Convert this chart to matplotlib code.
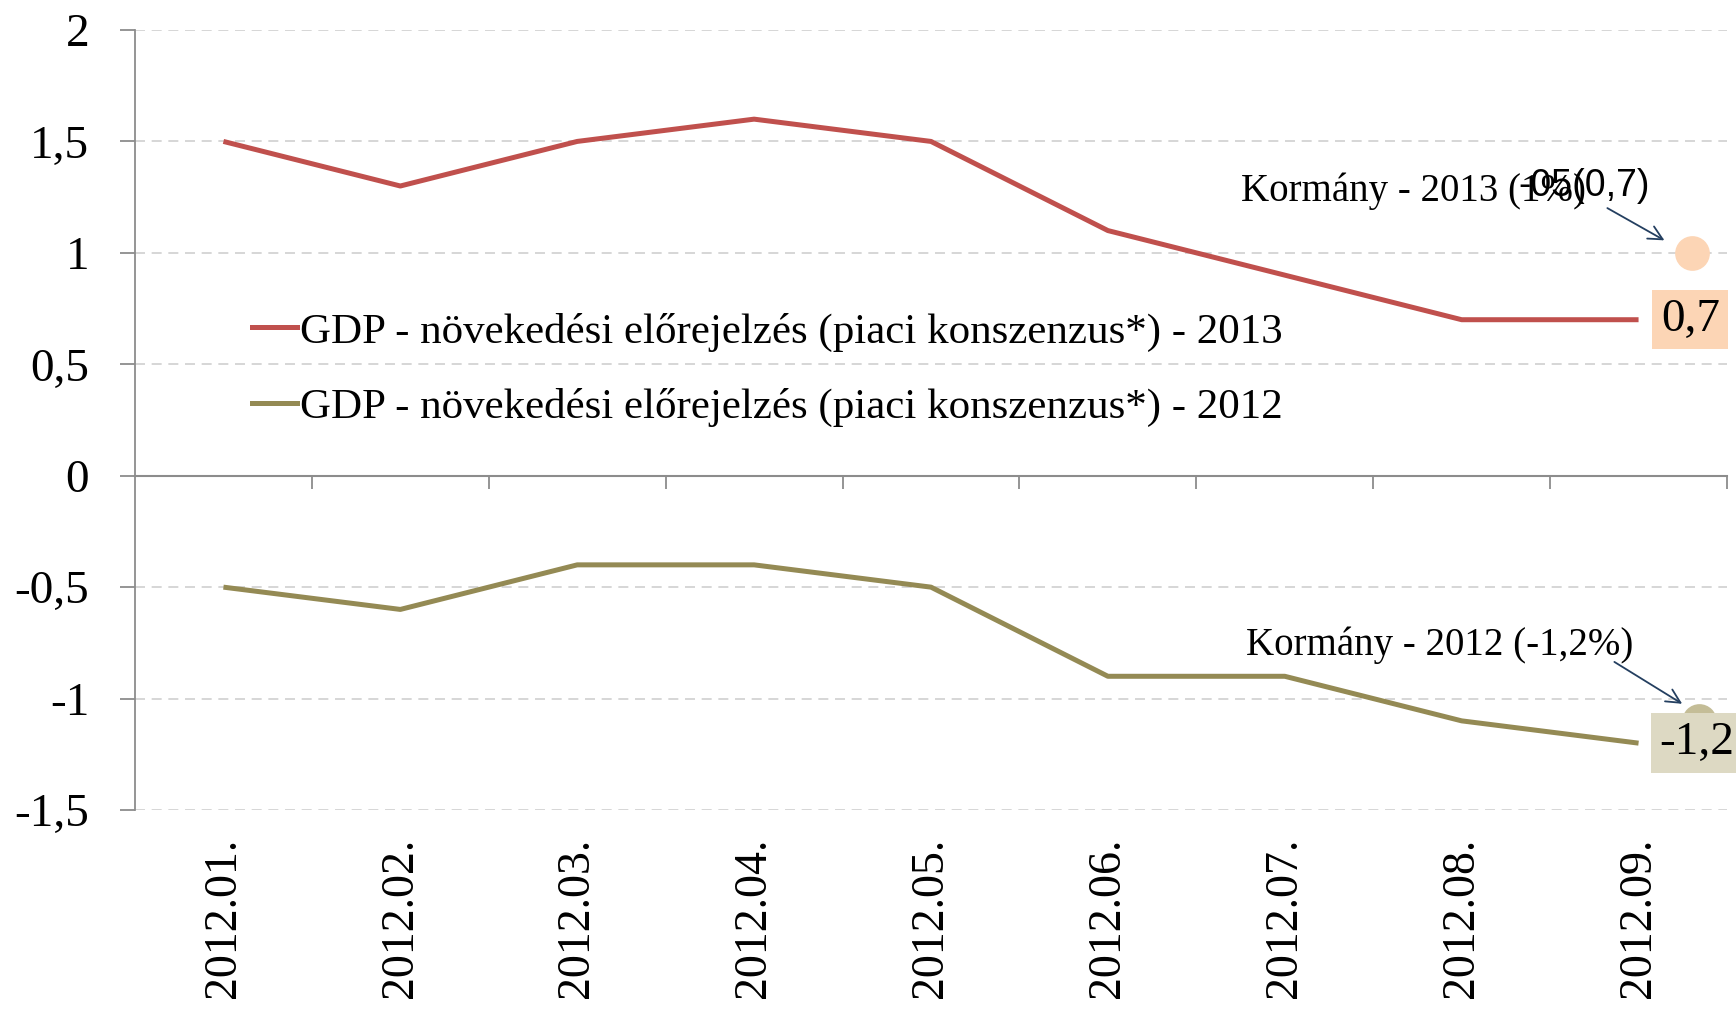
import matplotlib
matplotlib.use("Agg")
import matplotlib.pyplot as plt
from matplotlib.lines import Line2D

# ---- data ----
categories = ["2012.01.", "2012.02.", "2012.03.", "2012.04.", "2012.05.",
              "2012.06.", "2012.07.", "2012.08.", "2012.09."]
gdp_2013 = [1.5, 1.3, 1.5, 1.6, 1.5, 1.1, 0.9, 0.7, 0.7]
gdp_2012 = [-0.5, -0.6, -0.4, -0.4, -0.5, -0.9, -0.9, -1.1, -1.2]
label_2013 = "GDP - növekedési előrejelzés (piaci konszenzus*) - 2013"
label_2012 = "GDP - növekedési előrejelzés (piaci konszenzus*) - 2012"
gov_2013 = 1.0
gov_2012 = -1.1
gov_2013_x = 8.30
gov_2012_x = 8.34
yticks = [2, 1.5, 1, 0.5, 0, -0.5, -1, -1.5]
ytick_labels = ["2", "1,5", "1", "0,5", "0", "-0,5", "-1", "-1,5"]

RED = "#C0504D"
OLIVE = "#948A54"
SERIF = ["Liberation Serif", "DejaVu Serif"]

plt.rcParams["font.family"] = SERIF

fig = plt.figure(figsize=(17.36, 10.13), dpi=100)
ax = fig.add_axes([135 / 1736, 1 - 810 / 1013, (1727 - 135) / 1736, 780 / 1013])

x = list(range(len(categories)))
ax.plot(x, gdp_2013, color=RED, lw=3.6, solid_capstyle="butt", zorder=3)
ax.plot(x, gdp_2012, color=OLIVE, lw=3.6, solid_capstyle="butt", zorder=3)

ax.set_xlim(-0.5, len(categories) - 0.5)
ax.set_ylim(-1.5, 2)

# gridlines
for yv in yticks:
    if yv != 0:
        ax.axhline(yv, color="#D0D0D0", lw=1.2, ls=(0, (6, 4)), zorder=1)

# y axis
ax.set_yticks(yticks)
ax.set_yticklabels(ytick_labels, fontsize=34)
ax.tick_params(axis="y", direction="out", length=11, width=1.3, color="#8C8C8C", pad=22)
for s in ["top", "right", "bottom"]:
    ax.spines[s].set_visible(False)
ax.spines["left"].set_color("#8C8C8C")
ax.spines["left"].set_linewidth(1.3)

# x tick labels at bottom
ax.set_xticks(x)
ax.set_xticklabels(categories, rotation=90, fontsize=33, va="top")
ax.tick_params(axis="x", length=0, pad=20)

# zero axis line with tick marks between categories
sec = ax.secondary_xaxis(1.5 / 3.5)
sec.set_xticks([i + 0.5 for i in range(len(categories))])
sec.set_xticklabels([])
sec.tick_params(direction="out", length=9, width=1.3, color="#8C8C8C")
sec.spines["bottom"].set_color("#8C8C8C")
sec.spines["bottom"].set_linewidth(1.5)

# legend
handles = [Line2D([0], [0], color=RED, lw=3.6), Line2D([0], [0], color=OLIVE, lw=3.6)]
ax.legend(handles, [label_2013, label_2012], loc="upper left",
          bbox_to_anchor=(0.0735, 0.638), frameon=False, fontsize=31,
          handlelength=1.05, handletextpad=0.06, labelspacing=0.84, borderpad=0,
          borderaxespad=0)

# government points
ax.plot([gov_2013_x], [gov_2013], "o", ms=25, color="#FCD5B5", mec="none", zorder=4, clip_on=False)
ax.plot([gov_2012_x], [gov_2012], "o", ms=25, color="#C4BD97", mec="none", zorder=4, clip_on=False)

# annotations
ax.text(5.752, 1.275, "Kormány - 2013 (1%)", fontsize=28, ha="left", va="center", zorder=5)
ax.text(7.318, 1.30, "-05(0,7)", fontsize=27, ha="left", va="center",
        family=["Liberation Sans", "DejaVu Sans"], zorder=6)
ax.text(5.78, -0.761, "Kormány - 2012 (-1,2%)", fontsize=28, ha="left", va="center", zorder=5)

ax.annotate("", xy=(8.16, 1.05), xytext=(7.81, 1.207),
            arrowprops=dict(arrowstyle="->", color="#243F60", lw=1.3, mutation_scale=25),
            zorder=5)
ax.annotate("", xy=(8.26, -1.03), xytext=(7.85, -0.829),
            arrowprops=dict(arrowstyle="->", color="#243F60", lw=1.3, mutation_scale=25),
            zorder=5)

# data labels on last points
ax.annotate("0,7", xy=(x[-1], gdp_2013[-1]), xytext=(16, 0), textcoords="offset points",
            fontsize=34, ha="left", va="center", annotation_clip=False, zorder=6,
            bbox=dict(boxstyle="square,pad=0.18", fc="#FCD5B5", ec="none"))
ax.annotate("-1,2", xy=(x[-1], gdp_2012[-1]), xytext=(15, 0), textcoords="offset points",
            fontsize=34, ha="left", va="center", annotation_clip=False, zorder=6,
            bbox=dict(boxstyle="square,pad=0.18", fc="#DDD9C3", ec="none"))

fig.savefig("out.png", dpi=100, facecolor="white")
